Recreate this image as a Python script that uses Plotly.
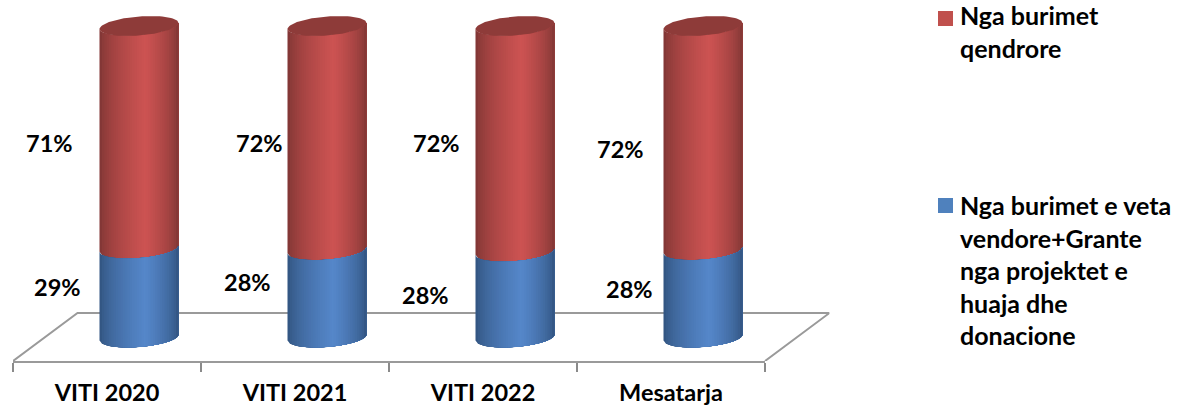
import math
import plotly.graph_objects as go

W, H = 1185, 409

# ---- data ----
categories = ["VITI 2020", "VITI 2021", "VITI 2022", "Mesatarja"]
series_blue_name = "Nga burimet e veta vendore+Grante nga projektet e huaja dhe donacione"
series_red_name = "Nga burimet qendrore"
blue_values = [28.5, 28.0, 27.5, 28.0]
red_values = [71.5, 72.0, 72.5, 72.0]
blue_labels = ["29%", "28%", "28%", "28%"]
red_labels = ["71%", "72%", "72%", "72%"]

# ---- layout constants (pixels) ----
AX_L, AX_R, AX_Y = 13, 765, 361
BACK_X_SHIFT, BACK_Y = 64.5, 313
Y0_PX, Y100_PX = 337.5, 26
FONT = "Lato"
FS = 23.5
px_per_cat = (AX_R - AX_L) / len(categories)
px_per_val = (Y0_PX - Y100_PX) / 100
to_cat = lambda p: p / px_per_cat
to_val = lambda p: p / px_per_val

CYL_SHIFT = to_cat(32)
HALF = to_cat(39.5)
TILT = to_val(3.0)
MINOR = to_val(9.5)
STRIPS = 34


def shade(c_edge, c_mid, u):
    # u in 0..1 across the cylinder; brightest slightly right of centre
    peak = 0.58
    k = u / peak if u < peak else (1 - u) / (1 - peak)
    k = k ** 0.6
    return "rgb(%d,%d,%d)" % tuple(round(a + (b - a) * k) for a, b in zip(c_edge, c_mid))


RED = ((122, 52, 50), (205, 83, 82))
BLUE = ((47, 80, 122), (85, 135, 202))
TOP = "#8E3B39"

fig = go.Figure()


def add_poly(xs, ys, color, name, xaxis="x2"):
    fig.add_trace(go.Scatter(x=xs, y=ys, mode="lines", fill="toself", fillcolor=color,
                             line=dict(width=0, color=color), xaxis=xaxis, yaxis="y",
                             hoverinfo="skip", showlegend=False, name=name))


def lower(cx, level, x):
    c = max(-1, min(1, (x - cx) / HALF))
    s = math.sqrt(1 - c * c)
    return level + TILT * c - MINOR * s


def segment(cx, y_lo, y_hi, colors, name):
    # painter's strips: each one runs to the right edge so no seams appear
    n = 60
    for i in range(STRIPS):
        u = i / STRIPS
        start = cx - HALF + 2 * HALF * u
        xs = [start + (cx + HALF - start) * j / n for j in range(n + 1)]
        top = [lower(cx, y_hi, x) for x in xs]
        bot = [lower(cx, y_lo, x) for x in xs]
        add_poly(xs + xs[::-1], bot + top[::-1], shade(*colors, (i + 0.5) / STRIPS), name)


# floor outline, drawn from the axis scale
floor_y = -(AX_Y - Y0_PX) / px_per_val
back_y = (Y0_PX - BACK_Y) / px_per_val
dx = to_cat(BACK_X_SHIFT)
n_c = len(categories)
fig.add_trace(go.Scatter(x=[-0.5, -0.5 + dx, n_c - 0.5 + dx, n_c - 0.5],
                         y=[floor_y, back_y, back_y, floor_y], mode="lines",
                         line=dict(color="#9A9A9A", width=2), xaxis="x2", yaxis="y",
                         hoverinfo="skip", showlegend=False))

# invisible trace that holds the category axis
fig.add_trace(go.Bar(x=categories, y=[0] * n_c, marker_opacity=0, xaxis="x", yaxis="y",
                     hoverinfo="skip", showlegend=False))

for i, cat in enumerate(categories):
    cx = i + CYL_SHIFT
    b, r = blue_values[i], red_values[i]
    segment(cx, b, b + r, RED, series_red_name)
    segment(cx, 0, b, BLUE, series_blue_name)
    ts = [2 * math.pi * k / 80 for k in range(81)]
    add_poly([cx + HALF * math.cos(t) for t in ts],
             [b + r + TILT * math.cos(t) + MINOR * math.sin(t) for t in ts], TOP, series_red_name)

px_x = lambda p: p / W
px_y = lambda p: 1 - p / H

annotations = []
red_pos = [(49, 143), (259, 143), (436, 143), (620, 149)]
blue_pos = [(57, 287), (248, 282), (425, 295), (629, 289)]
for txt, (x, y) in zip(red_labels + blue_labels, red_pos + blue_pos):
    annotations.append(dict(text=txt, xref="paper", yref="paper", x=px_x(x), y=px_y(y),
                            xanchor="center", yanchor="middle", showarrow=False,
                            font=dict(family=FONT, size=FS, color="#000000", weight=700)))

legend_items = [
    ("Nga burimet<br>qendrore", -2, "#C0504D", 18),
    ("Nga burimet e veta<br>vendore+Grante<br>nga projektet e<br>huaja dhe<br>donacione", 188, "#4F81BD", 205),
]
shapes = []
for txt, top, col, sq in legend_items:
    annotations.append(dict(text=txt, xref="paper", yref="paper", x=px_x(958), y=px_y(top),
                            xanchor="left", yanchor="top", align="left", showarrow=False,
                            font=dict(family=FONT, size=25, color="#000000", weight=700)))
    shapes.append(dict(type="rect", xref="paper", yref="paper", x0=px_x(938), x1=px_x(953),
                       y0=px_y(sq - 7), y1=px_y(sq + 8), fillcolor=col, line_width=0))

fig.update_layout(
    width=W, height=H, autosize=False,
    margin=dict(l=0, r=0, t=0, b=0),
    paper_bgcolor="white", plot_bgcolor="rgba(0,0,0,0)",
    showlegend=False, annotations=annotations, shapes=shapes,
    xaxis=dict(type="category", categoryorder="array", categoryarray=categories,
               domain=[AX_L / W, AX_R / W], range=[-0.5, n_c - 0.5],
               tickson="boundaries", ticks="outside", ticklen=9, tickwidth=2, tickcolor="#8A8A8A",
               ticklabelstandoff=10,
               showline=True, linecolor="#9A9A9A", linewidth=2, showgrid=False, zeroline=False,
               tickfont=dict(family=FONT, size=FS, color="#000000", weight=700), anchor="y"),
    xaxis2=dict(domain=[AX_L / W, (AX_R + BACK_X_SHIFT) / W],
                range=[-0.5, n_c - 0.5 + dx], visible=False, anchor="y"),
    yaxis=dict(domain=[(H - AX_Y) / H, 1], range=[floor_y, Y0_PX / px_per_val], visible=False),
)

fig.write_html("out.html", config={"displayModeBar": False},
               post_script="document.body.style.margin='0';document.documentElement.style.overflow='hidden';")
